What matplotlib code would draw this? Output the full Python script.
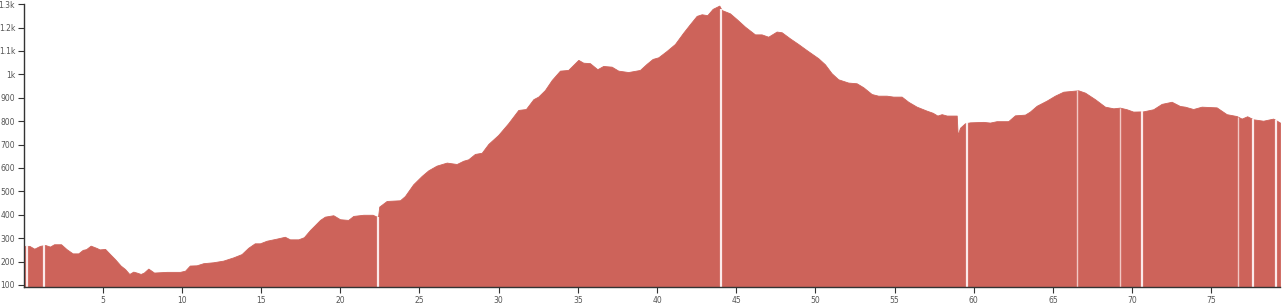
import numpy as np
import matplotlib
matplotlib.use("Agg")
import matplotlib.pyplot as plt

# distance (km) and elevation (m)
km = [0.0, 0.03, 0.37, 0.68, 1.04, 1.36, 1.67, 1.93, 2.37, 2.72, 3.1, 3.46, 3.74, 3.95,
      4.24, 4.62, 4.8, 5.15, 5.46, 5.78, 6.13, 6.41, 6.68, 6.93, 7.14, 7.4, 7.6, 7.88,
      8.24, 9.04, 9.88, 10.2, 10.5, 10.93, 11.35, 11.98, 12.61, 13.25, 13.77, 14.19,
      14.6, 14.93, 15.35, 15.98, 16.5, 16.82, 17.35, 17.7, 18.09, 18.4, 18.72, 19.03,
      19.56, 19.98, 20.5, 20.82, 21.45, 22.04, 22.3, 22.38, 22.46, 22.93, 23.77, 24.08,
      24.6, 25.14, 25.56, 26.08, 26.72, 27.35, 27.77, 28.08, 28.5, 28.93, 29.35, 29.97,
      30.6, 31.24, 31.72, 32.19, 32.5, 32.92, 33.35, 33.87, 34.39, 35.03, 35.34, 35.76,
      36.23, 36.6, 37.13, 37.55, 38.18, 38.92, 39.34, 39.72, 40.08, 40.6, 41.13, 41.65,
      42.08, 42.5, 42.82, 43.17, 43.51, 43.93, 44.08, 44.6, 45.03, 45.55, 46.18, 46.6,
      47.02, 47.55, 47.87, 48.39, 48.91, 49.44, 50.18, 50.6, 51.02, 51.44, 52.07, 52.6,
      53.02, 53.55, 53.96, 54.49, 54.91, 55.44, 55.86, 56.39, 57.02, 57.4, 57.7, 57.97,
      58.29, 58.92, 58.98, 59.13, 59.44, 59.76, 60.6, 61.02, 61.44, 62.17, 62.6, 63.23,
      63.54, 63.97, 64.6, 65.12, 65.65, 66.28, 66.59, 67.02, 67.65, 68.28, 68.81, 69.22,
      69.65, 70.06, 70.7, 71.33, 71.86, 72.49, 73.01, 73.33, 73.85, 74.38, 75.33, 75.96,
      76.59, 76.91, 77.26, 77.64, 78.27, 78.9, 79.33]
elev = [262, 267, 267, 255, 267, 271, 264, 274, 274, 253, 235, 235, 250, 253,
        268, 258, 252, 254, 232, 210, 183, 168, 147, 157, 153, 147, 153, 170,
        153, 156, 156, 161, 183, 184, 193, 197, 204, 218, 232, 259,
        278, 278, 289, 298, 306, 295, 295, 304, 335, 356, 378, 392,
        398, 381, 378, 395, 400, 400, 392, 390, 435, 459, 462, 480,
        530, 566, 590, 610, 623, 617, 631, 637, 660, 665, 703, 741,
        791, 848, 852, 894, 905, 933, 976, 1016, 1019, 1062, 1050, 1048,
        1022, 1036, 1033, 1016, 1010, 1019, 1045, 1066, 1073, 1100, 1130, 1178,
        1215, 1250, 1257, 1253, 1280, 1294, 1275, 1261, 1236, 1204, 1171, 1171,
        1161, 1183, 1180, 1154, 1130, 1104, 1069, 1043, 1005, 979, 965, 962,
        945, 916, 909, 909, 905, 905, 883, 862, 845, 836, 824, 830,
        824, 824, 741, 772, 791, 795, 797, 794, 800, 800, 825, 828,
        841, 866, 888, 909, 926, 930, 932, 922, 894, 862, 855, 858,
        851, 841, 842, 851, 874, 883, 865, 862, 852, 862, 859, 830,
        822, 811, 821, 808, 802, 811, 794]

# segment boundaries (km)
splits = [0.2, 1.29, 22.36, 44.03, 59.58, 70.59, 77.62, 79.07]
splits_faint = [66.49, 69.22, 76.65]

xticks = [5, 10, 15, 20, 25, 30, 35, 40, 45, 50, 55, 60, 65, 70, 75]
yticks = [100, 200, 300, 400, 500, 600, 700, 800, 900, 1000, 1100, 1200, 1300]
ylabels = ["100", "200", "300", "400", "500", "600", "700", "800", "900",
           "1k", "1.1k", "1.2k", "1.3k"]

ymin = 90

fig = plt.figure(figsize=(12.85, 3.08), dpi=100)
ax = fig.add_axes([0.0183, 0.0672, 0.9778, 0.9192])

ax.fill_between(km, ymin, elev, color="#cd635a", linewidth=0.6, edgecolor="#cd635a")

ax.vlines(splits, ymin, np.interp(splits, km, elev), color="#fbeaea", lw=1.6)
ax.vlines(splits_faint, ymin, np.interp(splits_faint, km, elev), color="#f2c8c4", lw=1.0)

ax.set_xlim(0, 79.33)
ax.set_ylim(ymin, 1300)

ax.set_xticks(xticks)
ax.set_xticklabels([str(t) for t in xticks])
ax.set_yticks(yticks)
ax.set_yticklabels(ylabels)
ax.tick_params(axis="both", labelsize=5.5, labelcolor="#555555", color="#333333",
               length=4, width=0.8, pad=2)

for s in ["top", "right"]:
    ax.spines[s].set_visible(False)
for s in ["left", "bottom"]:
    ax.spines[s].set_color("#333333")
    ax.spines[s].set_linewidth(1.0)

plt.savefig("out.png", dpi=100)
